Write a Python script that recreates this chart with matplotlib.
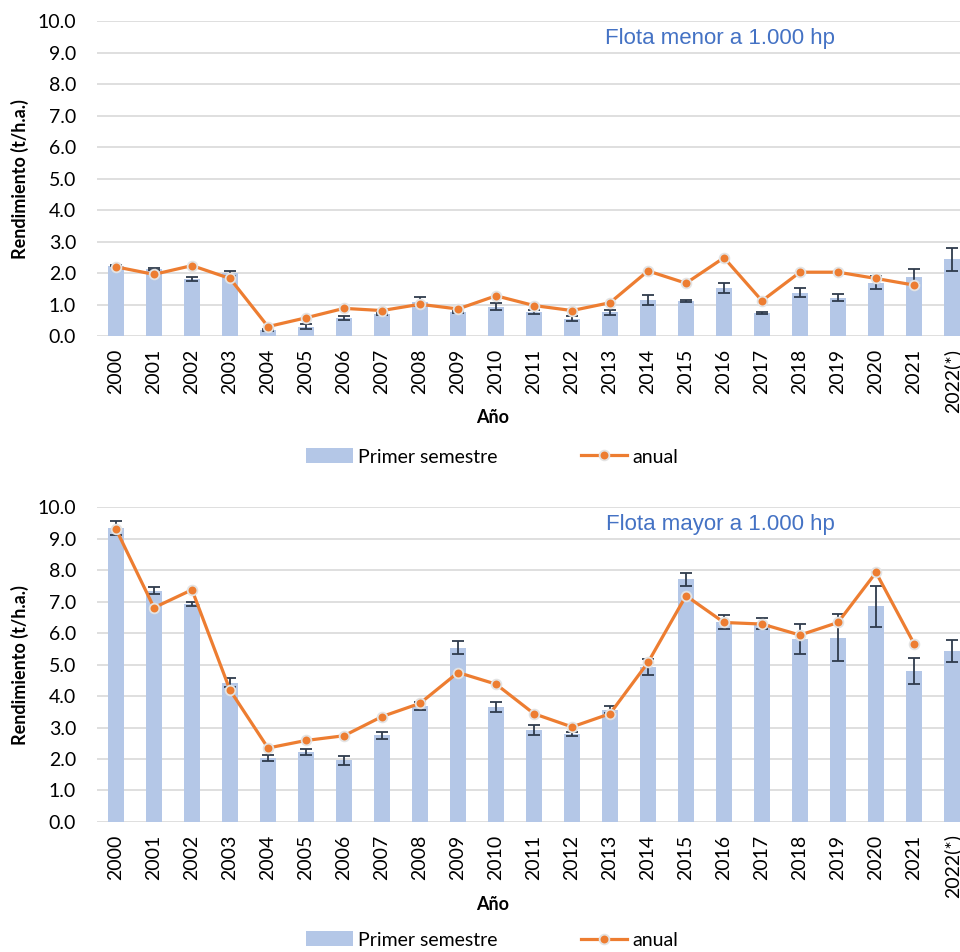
import numpy as np
import matplotlib.pyplot as plt
from matplotlib.lines import Line2D
from matplotlib.patches import Patch

years = [str(y) for y in range(2000, 2022)] + ["2022(*)"]

# Flota menor a 1.000 hp
menor_sem = [2.24, 2.13, 1.82, 1.99, 0.19, 0.30, 0.58, 0.69, 1.09, 0.77, 0.93, 0.76,
             0.55, 0.75, 1.15, 1.11, 1.53, 0.74, 1.38, 1.22, 1.69, 1.89, 2.44]
menor_err = [0.02, 0.03, 0.06, 0.08, 0.03, 0.08, 0.07, 0.03, 0.15, 0.04, 0.11, 0.07,
             0.08, 0.07, 0.17, 0.03, 0.16, 0.04, 0.14, 0.11, 0.21, 0.25, 0.37]
menor_anual = [2.20, 1.96, 2.24, 1.83, 0.30, 0.58, 0.88, 0.81, 1.01, 0.86, 1.28, 0.97,
               0.81, 1.06, 2.07, 1.68, 2.49, 1.12, 2.03, 2.03, 1.83, 1.62]

# Flota mayor a 1.000 hp
mayor_sem = [9.33, 7.35, 6.93, 4.43, 2.03, 2.22, 1.96, 2.75, 3.69, 5.54, 3.64, 2.93,
             2.80, 3.57, 4.92, 7.71, 6.35, 6.30, 5.82, 5.86, 6.85, 4.80, 5.44]
mayor_err = [0.22, 0.12, 0.07, 0.14, 0.10, 0.09, 0.15, 0.11, 0.12, 0.21, 0.16, 0.16,
             0.06, 0.12, 0.25, 0.21, 0.22, 0.18, 0.48, 0.75, 0.66, 0.41, 0.35]
mayor_anual = [9.31, 6.81, 7.38, 4.19, 2.35, 2.59, 2.74, 3.35, 3.77, 4.75, 4.38, 3.44,
               3.02, 3.44, 5.07, 7.19, 6.34, 6.29, 5.94, 6.34, 7.93, 5.67]

BAR = "#B4C7E7"
LINE = "#ED7D31"
GRID = "#D9D9D9"
ERR = "#2F3B4C"
TITLE = "#4472C4"

plt.rcParams['font.family'] = ['Lato', 'DejaVu Sans']

fig = plt.figure(figsize=(9.6, 9.52), dpi=100)

# (bar values, errors, annual line, title, axes bottom, "Año" y, legend y)
panels = [
    (menor_sem, menor_err, menor_anual, "Flota menor a 1.000 hp", 0.647, 0.561, 0.520),
    (mayor_sem, mayor_err, mayor_anual, "Flota mayor a 1.000 hp", 0.1366, 0.050, 0.0126),
]

for sem, err, anual, title, bottom, ano_y, leg_y in panels:
    ax = fig.add_axes([97 / 960, bottom, 874 / 960, 0.3305])
    x = np.arange(len(years))
    ax.bar(x, sem, width=0.4, color=BAR, zorder=2)
    ax.errorbar(x, sem, yerr=err, fmt="none", ecolor=ERR, elinewidth=1.3,
                capsize=4.2, capthick=1.3, zorder=3)
    xa = np.arange(len(anual))
    ax.plot(xa, anual, color=LINE, linewidth=2.3, marker="o", markersize=7,
            markerfacecolor=LINE, markeredgecolor="#E3E3E3", markeredgewidth=1.3,
            zorder=4)
    ax.set_xlim(-0.5, len(years) - 0.5)
    ax.set_ylim(0, 10)
    ax.set_yticks(np.arange(0, 10.5, 1.0))
    ax.set_yticklabels([f"{v:.1f}" for v in np.arange(0, 10.5, 1.0)], fontsize=14)
    ax.set_xticks(x)
    ax.set_xticklabels(years, rotation=90, fontsize=14)
    ax.tick_params(axis="both", length=0)
    ax.tick_params(axis="y", pad=15)
    ax.tick_params(axis="x", pad=9)
    for s in ax.spines.values():
        s.set_visible(False)
    ax.grid(axis="y", color=GRID, linewidth=1.2, zorder=0)
    ax.set_axisbelow(True)
    ax.text((720 - 97) / 874, 0.945, title, transform=ax.transAxes,
            ha="center", va="center", color=TITLE, fontsize=16,
            family=['Liberation Sans Narrow', 'Liberation Sans', 'DejaVu Sans'])
    fig.text(20 / 960, bottom + 0.165, "Rendimiento (t/h.a.)", rotation=90,
             ha="center", va="center", fontsize=13, fontweight="bold")
    fig.text(493 / 960, ano_y, "Año", ha="center", va="center",
             fontsize=13, fontweight="bold")
    handles = [
        Patch(facecolor=BAR, edgecolor="none"),
        Line2D([0], [0], color=LINE, linewidth=2.3, marker="o", markersize=7,
               markerfacecolor=LINE, markeredgecolor="#E3E3E3", markeredgewidth=1.3),
    ]
    fig.legend(handles, ["Primer semestre", "anual"], loc="center",
               bbox_to_anchor=(492 / 960, leg_y), ncol=2, frameon=False,
               fontsize=14, numpoints=1, handlelength=2.4, handleheight=0.8,
               handletextpad=0.25, columnspacing=4.3)

fig.savefig("out.png", dpi=100)
